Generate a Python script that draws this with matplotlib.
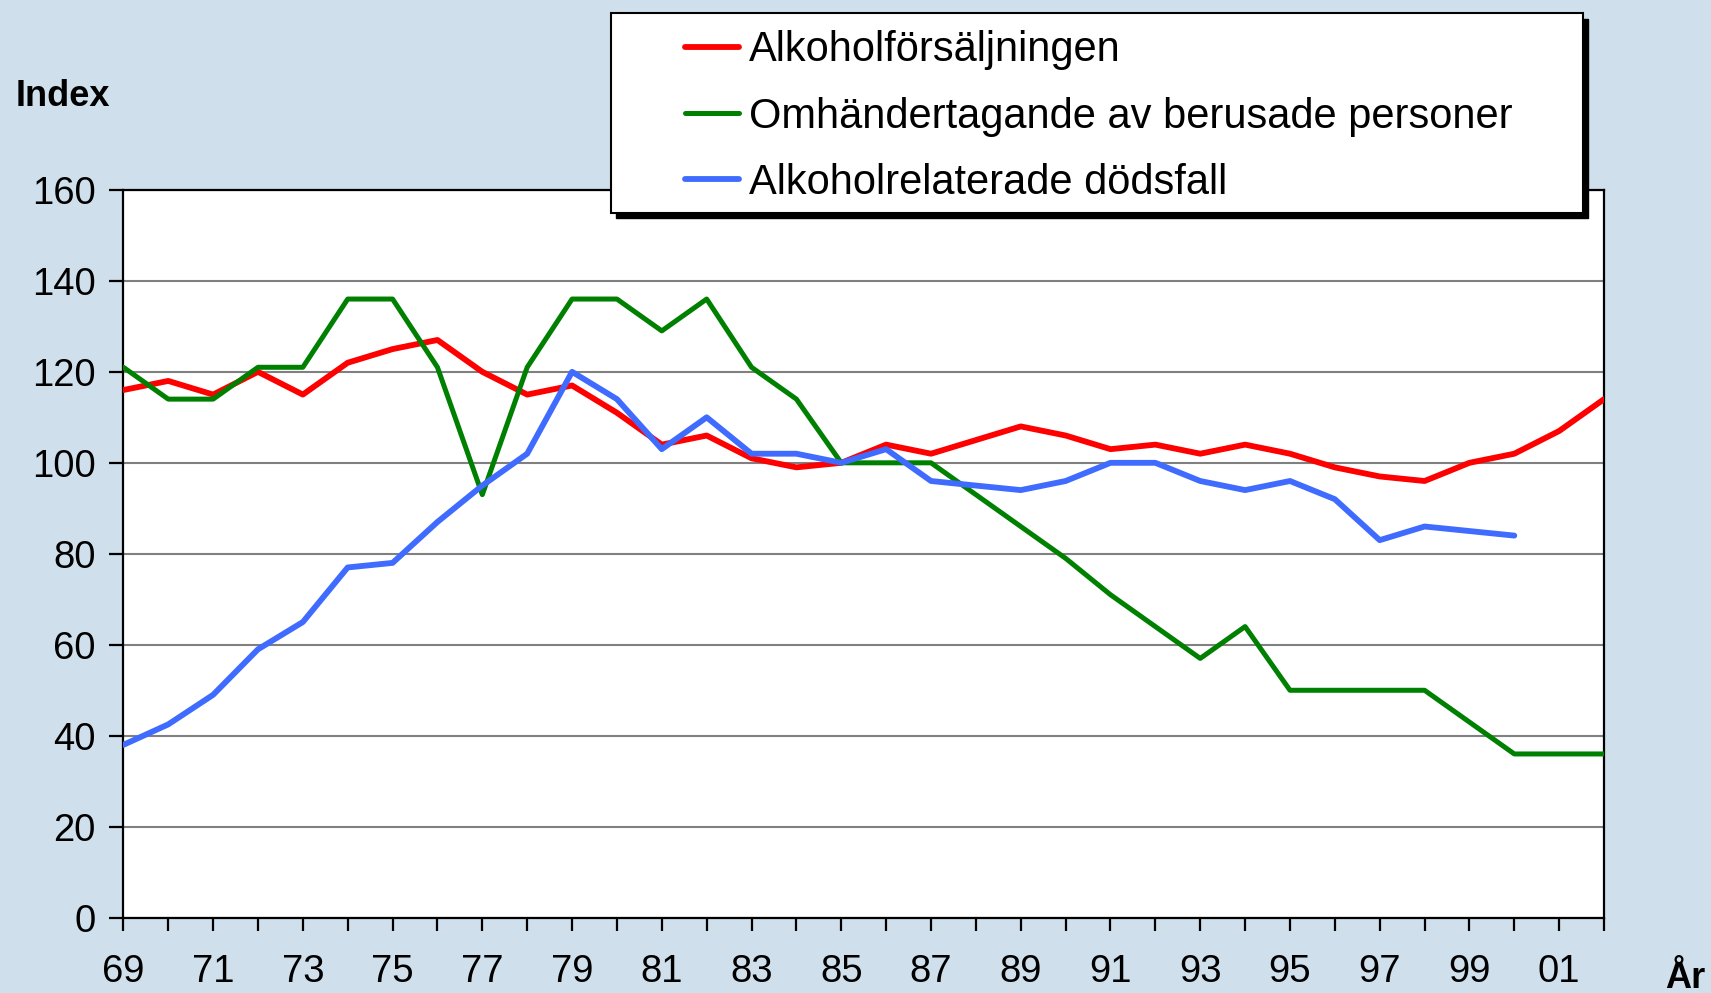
import numpy as np
import matplotlib
matplotlib.use('Agg')
import matplotlib.pyplot as plt
from matplotlib.patches import Rectangle

plt.rcParams['font.family'] = ['Liberation Sans', 'DejaVu Sans']

years = list(range(1969, 2003))
year_labels = [str(y)[2:] if y % 2 == 1 else '' for y in years]

# index values
forsaljning = [116, 118, 115, 120, 115, 122, 125, 127, 120, 115,
               117, 111, 104, 106, 101, 99, 100, 104, 102, 105,
               108, 106, 103, 104, 102, 104, 102, 99, 97, 96,
               100, 102, 107, 114]
omhandertagande = [121, 114, 114, 121, 121, 136, 136, 121, 93, 121,
                   136, 136, 129, 136, 121, 114, 100, 100, 100, 93,
                   86, 79, 71, 64, 57, 64, 50, 50, 50, 50,
                   43, 36, 36, 36]
dodsfall = [38, 42.5, 49, 59, 65, 77, 78, 87, 95, 102,
            120, 114, 103, 110, 102, 102, 100, 103, 96, 95,
            94, 96, 100, 100, 96, 94, 96, 92, 83, 86,
            85, 84, np.nan, np.nan]

series_names = ['Alkoholförsäljningen',
                'Omhändertagande av berusade personer',
                'Alkoholrelaterade dödsfall']

bg = '#CFDFEB'
fig = plt.figure(figsize=(17.11, 9.93), dpi=100, facecolor=bg)
ax = fig.add_axes([0.0721, 0.0758, 0.8654, 0.733])
ax.set_facecolor('white')

l1, = ax.plot(years, forsaljning, color='#FF0000', lw=4.2, solid_capstyle='round', zorder=3)
l2, = ax.plot(years, omhandertagande, color='#008000', lw=3.6, solid_capstyle='round', zorder=3)
l3, = ax.plot(years, dodsfall, color='#3F6BFF', lw=4.2, solid_capstyle='round', zorder=3)

ax.set_xlim(1969, 2002)
ax.set_ylim(0, 160)
ax.set_yticks(range(0, 161, 20))
ax.set_xticks(years)
ax.set_xticklabels(year_labels)
ax.yaxis.grid(True, color='#808080', lw=1.5)
ax.set_axisbelow(True)
for s in ax.spines.values():
    s.set_color('black')
    s.set_linewidth(1.6)
ax.tick_params(axis='y', labelsize=27.5, length=10, width=1.6, pad=10)
ax.tick_params(axis='x', labelsize=27.5, length=9, width=1.6, pad=17)

fig.text(0.009, 0.903, 'Index', fontsize=26, fontweight='bold', va='center', ha='left')
fig.text(0.985, 0.015, 'År', fontsize=26, fontweight='bold', va='center', ha='center')

# legend box with hard shadow
x0, y0, x1, y1 = 0.357, 0.786, 0.925, 0.987
fig.add_artist(Rectangle((x0 + 0.003, y0 - 0.006), x1 - x0, y1 - y0,
                         transform=fig.transFigure, facecolor='black', edgecolor='black', zorder=2))
fig.add_artist(Rectangle((x0, y0), x1 - x0, y1 - y0,
                         transform=fig.transFigure, facecolor='white', edgecolor='black',
                         lw=1.5, zorder=3))
fig.legend([l1, l2, l3], series_names, loc='center left', bbox_to_anchor=(0.4005, 0.8825),
           frameon=False, fontsize=30, borderpad=0, borderaxespad=0, handlelength=1.3,
           handletextpad=0.22, labelspacing=0.63).set_zorder(4)

fig.savefig('out.png', dpi=100, facecolor=bg)
